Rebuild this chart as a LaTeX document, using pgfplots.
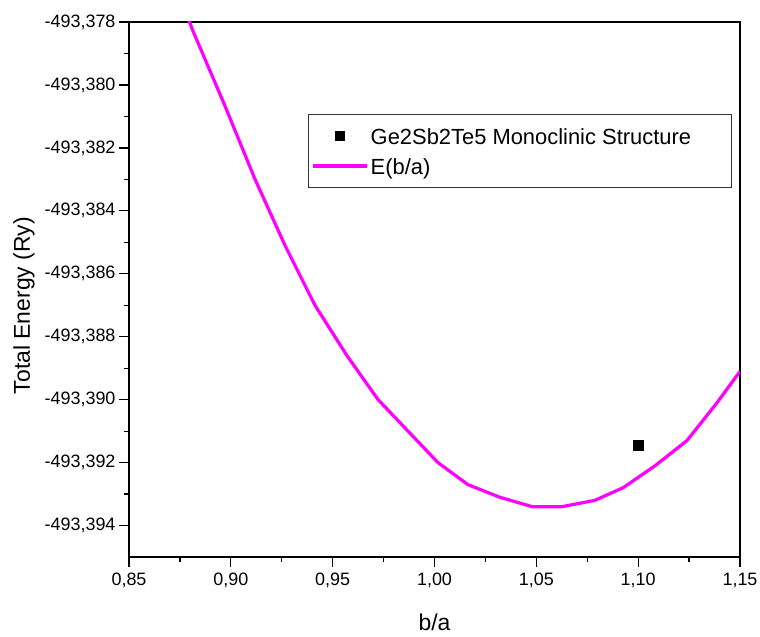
\documentclass[border=0pt]{standalone}
\usepackage{pgfplots}
\pgfplotsset{compat=1.18}
\usepackage{fontspec}
\setmainfont{Liberation Sans}
\definecolor{curvemag}{RGB}{255,0,255}

\begin{document}
\begin{tikzpicture}
\begin{axis}[
  scale only axis,
  width=611bp, height=535bp,
  xmin=0.85, xmax=1.15,
  ymin=-493.395, ymax=-493.378,
  xtick={0.85,0.90,0.95,1.00,1.05,1.10,1.15},
  ytick={-493.394,-493.392,-493.390,-493.388,-493.386,-493.384,-493.382,-493.380,-493.378},
  minor x tick num=1,
  minor y tick num=1,
  xtick pos=bottom, ytick pos=left,
  tick align=outside,
  major tick length=10bp, minor tick length=5bp,
  every tick/.style={black, line width=1.2bp},
  axis line style={line width=1.2bp},
  /pgf/number format/assume math mode=true,
  tick label style={font=\fontsize{18}{20}\selectfont},
  xticklabel style={yshift=-3bp, /pgf/number format/.cd, fixed, fixed zerofill, precision=2, use comma, 1000 sep={}},
  yticklabel style={/pgf/number format/.cd, fixed, fixed zerofill, precision=3, use comma, 1000 sep={}},
  scaled ticks=false,
  xlabel={b/a},
  ylabel={Total Energy (Ry)},
  label style={font=\fontsize{23}{27}\selectfont},
  xlabel style={at={(axis description cs:0.5,-0.1215)}, anchor=center},
  ylabel style={at={(axis description cs:-0.172,0.470)}, anchor=center},
  legend style={
    at={(axis description cs:0.293,0.828)}, anchor=north west,
    draw=black!80, line width=1bp,
    inner xsep=3bp, inner ysep=9bp,
    row sep=5bp,
    font=\fontsize{22}{26}\selectfont,
    nodes={inner sep=2bp, text height=19bp, text depth=2bp},
  },
  legend cell align=left,
  clip=true,
]
% computed point for the monoclinic cell
\addplot[only marks, mark=square*, mark size=4.8bp, black,
  legend image code/.code={\draw[black, mark=square*, mark size=4.8bp] plot coordinates {(27bp,0bp)};\path (0bp,0bp) (54bp,0bp);}]
  coordinates {(1.10,-493.39145)};
\addlegendentry{Ge2Sb2Te5 Monoclinic Structure\hspace*{35bp}}

% fitted energy curve E(b/a)
\addplot[color=curvemag, line width=3.2bp, no marks,
  legend image code/.code={\draw[curvemag, line width=3.2bp] (0bp,0bp) -- (54bp,0bp);}]
  coordinates {
    (0.8663,-493.3757)
    (0.8815,-493.3783)
    (0.8967,-493.3806)
    (0.9119,-493.3830)
    (0.9266,-493.3851)
    (0.9413,-493.3870)
    (0.9570,-493.3886)
    (0.9723,-493.3900)
    (0.9870,-493.3910)
    (1.0017,-493.3920)
    (1.0164,-493.3927)
    (1.0320,-493.3931)
    (1.0480,-493.3934)
    (1.0626,-493.3934)
    (1.0787,-493.3932)
    (1.0926,-493.3928)
    (1.1083,-493.3921)
    (1.1240,-493.3913)
    (1.1387,-493.3901)
    (1.1500,-493.3891)
  };
\addlegendentry{E(b/a)}
\end{axis}
\pgfresetboundingbox
\path[use as bounding box] ([shift={(-129bp,-80bp)}]current axis.south west) rectangle ([shift={(20bp,22bp)}]current axis.north east);
\end{tikzpicture}
\end{document}
